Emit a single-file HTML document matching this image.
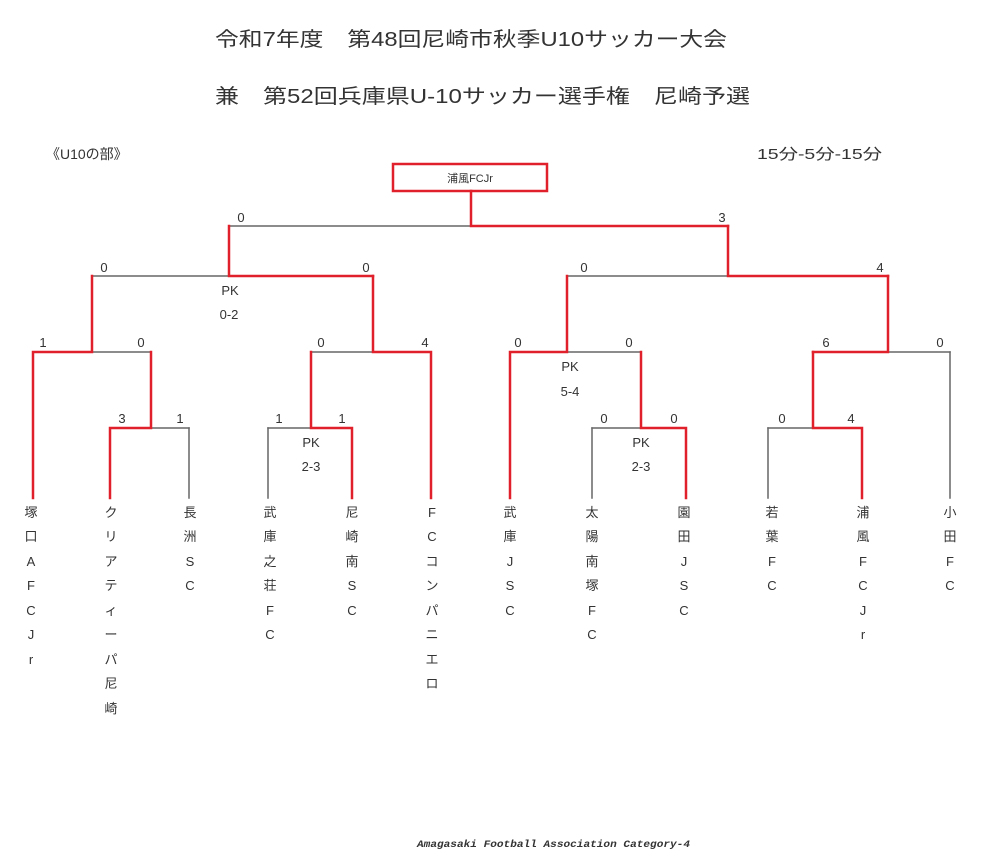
<!DOCTYPE html>
<html><head><meta charset="utf-8"><style>
html,body{margin:0;padding:0;background:#fff;}
svg{display:block;}
text{font-family:"Liberation Sans","Noto Sans CJK JP",sans-serif;fill:#333;}
</style></head><body>
<svg width="981" height="865" viewBox="0 0 981 865" xmlns="http://www.w3.org/2000/svg">
<text x="215" y="46" font-size="20" textLength="512" lengthAdjust="spacingAndGlyphs" fill="#111">令和7年度　第48回尼崎市秋季U10サッカー大会</text>
<text x="215" y="103" font-size="20" textLength="535" lengthAdjust="spacingAndGlyphs" fill="#111">兼　第52回兵庫県U-10サッカー選手権　尼崎予選</text>
<text x="46" y="159" font-size="14">《U10の部》</text>
<text x="757" y="159" font-size="15" textLength="125" lengthAdjust="spacingAndGlyphs">15分-5分-15分</text>
<rect x="393" y="164" width="154" height="27" fill="none" stroke="#e0202a" stroke-width="2.5"/>
<text x="470" y="182" font-size="11" text-anchor="middle">浦風FCJr</text>
<g fill="none" stroke-linecap="square">
<g stroke="#666" stroke-width="1.5">
<path d="M229 226H471"/>
<path d="M92 276H229 M567 276H728"/>
<path d="M92 352H151 M311 352H373 M567 352H641 M888 352H950"/>
<path d="M151 428H189 M268 428H311 M592 428H641 M768 428H813"/>
<path d="M189 428V498 M268 428V498 M592 428V498 M768 428V498 M950 352V498"/>
</g>
<g stroke="#e0202a" stroke-width="2.5">
<path d="M471 191V226H728"/>
<path d="M229 226V276H373 M728 226V276H888"/>
<path d="M92 276V352H33V498 M373 276V352H431V498 M567 276V352H510V498 M888 276V352H813"/>
<path d="M151 352V428H110V498 M311 352V428H352V498 M641 352V428H686V498 M813 352V428H862V498"/>
</g>
</g>
<g font-size="13" text-anchor="middle">
<text x="241" y="222">0</text><text x="722" y="222">3</text>
<text x="104" y="272">0</text><text x="366" y="272">0</text><text x="584" y="272">0</text><text x="880" y="272">4</text>
<text x="43" y="347">1</text><text x="141" y="347">0</text><text x="321" y="347">0</text><text x="425" y="347">4</text>
<text x="518" y="347">0</text><text x="629" y="347">0</text><text x="826" y="347">6</text><text x="940" y="347">0</text>
<text x="122" y="423">3</text><text x="180" y="423">1</text><text x="279" y="423">1</text><text x="342" y="423">1</text>
<text x="604" y="423">0</text><text x="674" y="423">0</text><text x="782" y="423">0</text><text x="851" y="423">4</text>
<text x="230" y="295">PK</text><text x="229" y="319">0-2</text>
<text x="570" y="371">PK</text><text x="570" y="396">5-4</text>
<text x="311" y="447">PK</text><text x="311" y="471">2-3</text>
<text x="641" y="447">PK</text><text x="641" y="471">2-3</text>
</g>
<g font-size="13" text-anchor="middle">
<text x="31" y="517">塚</text><text x="31" y="541">口</text><text x="31" y="566">A</text><text x="31" y="590">F</text><text x="31" y="615">C</text><text x="31" y="639">J</text><text x="31" y="664">r</text>
<text x="111" y="517">ク</text><text x="111" y="541">リ</text><text x="111" y="566">ア</text><text x="111" y="590">テ</text><text x="111" y="615">ィ</text><text x="111" y="639">ー</text><text x="111" y="664">パ</text><text x="111" y="688">尼</text><text x="111" y="713">崎</text>
<text x="190" y="517">長</text><text x="190" y="541">洲</text><text x="190" y="566">S</text><text x="190" y="590">C</text>
<text x="270" y="517">武</text><text x="270" y="541">庫</text><text x="270" y="566">之</text><text x="270" y="590">荘</text><text x="270" y="615">F</text><text x="270" y="639">C</text>
<text x="352" y="517">尼</text><text x="352" y="541">崎</text><text x="352" y="566">南</text><text x="352" y="590">S</text><text x="352" y="615">C</text>
<text x="432" y="517">F</text><text x="432" y="541">C</text><text x="432" y="566">コ</text><text x="432" y="590">ン</text><text x="432" y="615">パ</text><text x="432" y="639">ニ</text><text x="432" y="664">エ</text><text x="432" y="688">ロ</text>
<text x="510" y="517">武</text><text x="510" y="541">庫</text><text x="510" y="566">J</text><text x="510" y="590">S</text><text x="510" y="615">C</text>
<text x="592" y="517">太</text><text x="592" y="541">陽</text><text x="592" y="566">南</text><text x="592" y="590">塚</text><text x="592" y="615">F</text><text x="592" y="639">C</text>
<text x="684" y="517">園</text><text x="684" y="541">田</text><text x="684" y="566">J</text><text x="684" y="590">S</text><text x="684" y="615">C</text>
<text x="772" y="517">若</text><text x="772" y="541">葉</text><text x="772" y="566">F</text><text x="772" y="590">C</text>
<text x="863" y="517">浦</text><text x="863" y="541">風</text><text x="863" y="566">F</text><text x="863" y="590">C</text><text x="863" y="615">J</text><text x="863" y="639">r</text>
<text x="950" y="517">小</text><text x="950" y="541">田</text><text x="950" y="566">F</text><text x="950" y="590">C</text>
</g>
<text x="417" y="847" font-size="10" font-weight="bold" font-style="italic" textLength="273" lengthAdjust="spacingAndGlyphs" style="font-family:'Liberation Mono',monospace" fill="#111">Amagasaki Football Association Category-4</text>
</svg>
</body></html>
